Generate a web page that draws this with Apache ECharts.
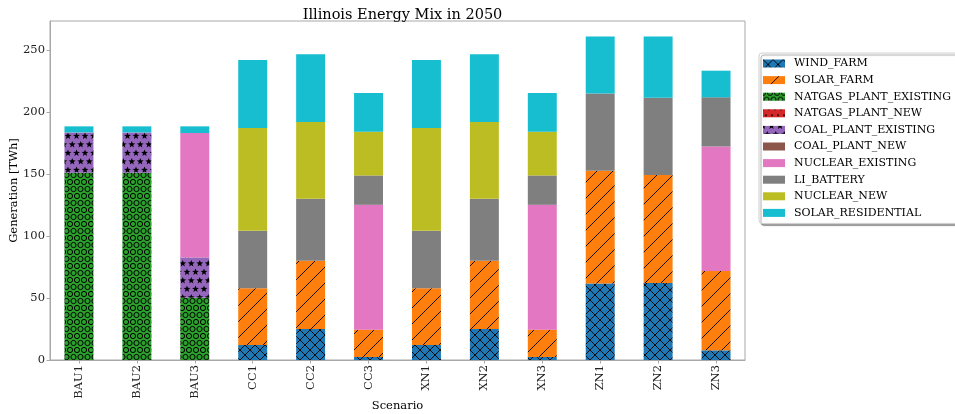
<!DOCTYPE html>
<html>
<head>
<meta charset="utf-8">
<script src="https://cdn.jsdelivr.net/npm/echarts@6/dist/echarts.min.js"></script>
<style>
  html, body { margin: 0; padding: 0; background: #fff; }
  #chart { width: 955px; height: 414px; }
</style>
</head>
<body>
<div id="chart"></div>
<script>
// Scenarios and generation by technology (TWh)
const scenarios = ['BAU1', 'BAU2', 'BAU3', 'CC1', 'CC2', 'CC3', 'XN1', 'XN2', 'XN3', 'ZN1', 'ZN2', 'ZN3'];
const windFarm          = [0, 0, 0, 12.1, 25, 2.4, 12.1, 25, 2.4, 61.7, 62.2, 7.8];
const solarFarm         = [0, 0, 0, 45.8, 55, 22.1, 45.8, 55, 22.1, 91, 87, 64.1];
const natgasExisting    = [151, 151, 50.3, 0, 0, 0, 0, 0, 0, 0, 0, 0];
const natgasNew         = [0, 0, 0, 0, 0, 0, 0, 0, 0, 0, 0, 0];
const coalExisting      = [32.6, 32.6, 32.3, 0, 0, 0, 0, 0, 0, 0, 0, 0];
const coalNew           = [0, 0, 0, 0, 0, 0, 0, 0, 0, 0, 0, 0];
const nuclearExisting   = [0, 0, 100.5, 0, 0, 100.7, 0, 0, 100.7, 0, 0, 100.4];
const liBattery         = [0, 0, 0, 46.3, 50, 23.7, 46.3, 50, 23.7, 62.4, 62.4, 39.6];
const nuclearNew        = [0, 0, 0, 82.9, 62, 35.3, 82.9, 62, 35.3, 0, 0, 0];
const solarResidential  = [4.9, 4.9, 5.4, 55, 54.6, 31.2, 55, 54.6, 31.2, 45.8, 49.3, 21.5];
const yTicks = [0, 50, 100, 150, 200, 250];

const FONT = "'DejaVu Serif', 'Liberation Serif', serif";

// Hatched fills drawn on small repeating canvas tiles
function hatch(kind, base) {
  const c = document.createElement('canvas');
  let w = 30, h = 30;
  if (kind === '/') { w = h = 48; }
  if (kind === 'x') { w = h = 30; }
  if (kind === 'o') { w = 28; h = 28; }
  if (kind === '*') { w = 34; h = 34; }
  if (kind === '.') { w = 24; h = 24; }
  c.width = w; c.height = h;
  const g = c.getContext('2d');
  g.fillStyle = base;
  g.fillRect(0, 0, w, h);
  g.strokeStyle = '#000';
  g.fillStyle = '#000';
  g.lineWidth = 0.9;
  if (kind === '/' || kind === 'x') {
    const n = 3, s = w / n;
    g.beginPath();
    for (let k = -2; k <= 2 * n + 2; k++) {
      const cc = k * s;           // line x + y = cc
      g.moveTo(cc - (h + 2), h + 2);
      g.lineTo(cc + 2, -2);
      if (kind === 'x') {         // line x - y = cc - h
        g.moveTo(cc - h - 2, -2);
        g.lineTo(cc + 2, h + 2);
      }
    }
    g.stroke();
  } else if (kind === 'o') {
    const s = 7;
    g.lineWidth = 1;
    for (let r = 0; r <= h / s; r++) {
      const off = (r % 2) ? s / 2 : 0;
      for (let q = -1; q <= w / s; q++) {
        g.beginPath();
        g.arc(q * s + off, r * s, 2.6, 0, Math.PI * 2);
        g.stroke();
      }
    }
  } else if (kind === '*') {
    const s = 8.5;
    for (let r = 0; r <= h / s; r++) {
      const off = (r % 2) ? s / 2 : 0;
      for (let q = -1; q <= w / s; q++) {
        const cx = q * s + off, cy = r * s;
        g.beginPath();
        for (let i = 0; i < 10; i++) {
          const rad = (i % 2) ? 1.5 : 3.6;
          const a = -Math.PI / 2 + i * Math.PI / 5;
          const px = cx + rad * Math.cos(a), py = cy + rad * Math.sin(a);
          if (i === 0) g.moveTo(px, py); else g.lineTo(px, py);
        }
        g.closePath();
        g.fill();
      }
    }
  } else if (kind === '.') {
    const s = 6;
    for (let r = 0; r < h / s; r++) {
      const off = (r % 2) ? s / 2 : 0;
      for (let q = -1; q <= w / s; q++) {
        g.beginPath();
        g.arc(q * s + off, r * s, 0.9, 0, Math.PI * 2);
        g.fill();
      }
    }
  }
  return { image: c, repeat: 'repeat' };
}

const seriesDefs = [
  ['WIND_FARM', windFarm, hatch('x', '#1f77b4')],
  ['SOLAR_FARM', solarFarm, hatch('/', '#ff7f0e')],
  ['NATGAS_PLANT_EXISTING', natgasExisting, hatch('o', '#2ca02c')],
  ['NATGAS_PLANT_NEW', natgasNew, hatch('.', '#d62728')],
  ['COAL_PLANT_EXISTING', coalExisting, hatch('*', '#9467bd')],
  ['COAL_PLANT_NEW', coalNew, '#8c564b'],
  ['NUCLEAR_EXISTING', nuclearExisting, '#e377c2'],
  ['LI_BATTERY', liBattery, '#7f7f7f'],
  ['NUCLEAR_NEW', nuclearNew, '#bcbd22'],
  ['SOLAR_RESIDENTIAL', solarResidential, '#17becf']
];

const chart = echarts.init(document.getElementById('chart'), null, { renderer: 'canvas' });

chart.setOption({
  animation: false,
  backgroundColor: '#fff',
  textStyle: { fontFamily: FONT },
  title: {
    text: 'Illinois Energy Mix in 2050',
    left: 397.5,
    textAlign: 'center',
    top: 3,
    textStyle: { fontFamily: FONT, fontSize: 14.5, fontWeight: 'normal', color: '#000' }
  },
  legend: {
    orient: 'vertical',
    left: 759,
    top: 53,
    padding: [5, 30, 5, 4],
    itemWidth: 22,
    itemHeight: 8,
    itemGap: 5.6,
    icon: 'rect',
    backgroundColor: '#fff',
    borderColor: '#d0d0d0',
    borderWidth: 1,
    borderRadius: 3,
    shadowColor: 'rgba(0,0,0,0.35)',
    shadowOffsetX: 2,
    shadowOffsetY: 2,
    shadowBlur: 1,
    textStyle: { fontFamily: FONT, fontSize: 11, color: '#000', padding: [0, 0, 0, 4], lineHeight: 11 },
    data: seriesDefs.map(d => d[0])
  },
  grid: {
    left: 50, right: 210, top: 21, bottom: 54,
    outerBoundsMode: 'none',
    containLabel: false,
    show: true, borderColor: '#a8a8a8', borderWidth: 1, backgroundColor: 'transparent'
  },
  xAxis: {
    type: 'category',
    data: scenarios,
    name: 'Scenario',
    nameLocation: 'middle',
    nameGap: 40,
    nameMoveOverlap: false,
    nameTextStyle: { fontFamily: FONT, fontSize: 11.5, color: '#000' },
    axisLine: { show: true, lineStyle: { color: '#a8a8a8' } },
    axisTick: { show: true, alignWithLabel: true, length: 3.5, lineStyle: { color: '#a8a8a8' } },
    axisLabel: { rotate: 90, fontFamily: FONT, fontSize: 11.5, color: '#222', margin: 5 },
    splitLine: { show: false }
  },
  yAxis: {
    type: 'value',
    min: 0,
    max: 273.5,
    interval: 50,
    name: 'Generation [TWh]',
    nameLocation: 'middle',
    nameGap: 30,
    nameMoveOverlap: false,
    nameTextStyle: { fontFamily: FONT, fontSize: 11.5, color: '#000' },
    axisLine: { show: true, lineStyle: { color: '#a8a8a8' } },
    axisTick: { show: true, length: 3.5, lineStyle: { color: '#a8a8a8' }, customValues: yTicks },
    axisLabel: { fontFamily: FONT, fontSize: 11.5, color: '#222', margin: 5, customValues: yTicks },
    splitLine: { show: false }
  },
  series: seriesDefs.map(([name, values, fill]) => ({
    name: name,
    type: 'bar',
    stack: 'mix',
    barWidth: '50%',
    data: values,
    itemStyle: { color: fill },
    emphasis: { disabled: true }
  }))
});
</script>
</body>
</html>
